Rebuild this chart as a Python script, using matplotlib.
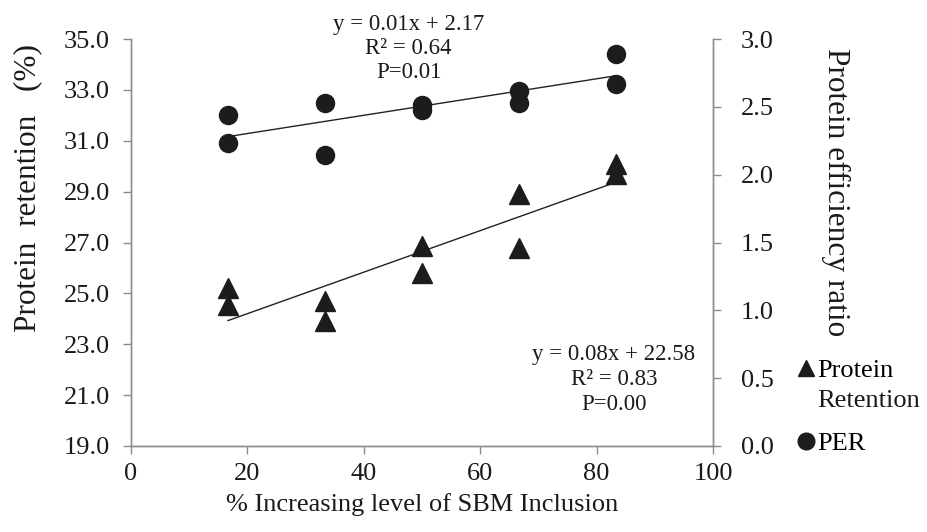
import matplotlib
matplotlib.use("Agg")
import matplotlib.pyplot as plt
import numpy as np
from matplotlib.lines import Line2D

# Data
sbm_level = [16.67, 16.67, 33.33, 33.33, 50.0, 50.0, 66.67, 66.67, 83.33, 83.33]
protein_retention = [25.2, 24.55, 24.7, 23.9, 26.85, 25.8, 28.9, 26.8, 30.1, 29.7]
per_values = [2.44, 2.235, 2.526, 2.148, 2.514, 2.48, 2.62, 2.526, 2.89, 2.67]

left_ticks = [19.0, 21.0, 23.0, 25.0, 27.0, 29.0, 31.0, 33.0, 35.0]
right_ticks = [0.0, 0.5, 1.0, 1.5, 2.0, 2.5, 3.0]
x_ticks = [0, 20, 40, 60, 80, 100]

eq_per = "y = 0.01x + 2.17\nR\u00b2 = 0.64\nP=0.01"
eq_pr = "y = 0.08x + 22.58\nR\u00b2 = 0.83\nP=0.00"
legend_labels = ["Protein", "PER"]
legend_label_cont = "Retention"

plt.rcParams['font.family'] = ['Liberation Serif', 'DejaVu Serif']
FS = 19
YL_FS = 22.5
EQ_FS = 16.5
spine_c = '#8c8c8c'
mark_c = '#1c1c1c'
txt_c = '#1a1a1a'

fig = plt.figure(figsize=(9.28, 5.32), dpi=100)
ax = fig.add_axes([131/928, 1-446/532, (713-131)/928, (446-39)/532])
ax2 = ax.twinx()

ax.set_xlim(0, 100)
ax.set_ylim(19, 35)
ax2.set_ylim(0, 3)

x = np.array(sbm_level)
pr = np.array(protein_retention)
pe = np.array(per_values)

ax.plot(x, pr, linestyle='none', marker='^', markersize=14, color=mark_c, zorder=3)
ax2.plot(x, pe, linestyle='none', marker='o', markersize=13, color=mark_c, zorder=3)

# trend lines
xl = np.array([x.min(), x.max()])
k1, b1 = np.polyfit(x, pr, 1)
ax.plot(xl, k1*xl + b1, color='#222222', lw=1.0, zorder=2)
k2, b2 = np.polyfit(x, pe, 1)
ax2.plot(xl, k2*xl + b2, color='#222222', lw=1.0, zorder=2)

ax.set_xticks(x_ticks)
ax.set_xticklabels([str(t) for t in x_ticks])
ax.set_yticks(left_ticks)
ax.set_yticklabels([f"{t:.1f}" for t in left_ticks])
ax2.set_yticks(right_ticks)
ax2.set_yticklabels([f"{t:.1f}" for t in right_ticks])

for a in (ax, ax2):
    a.spines['top'].set_visible(False)
    for s in ('left', 'right', 'bottom'):
        a.spines[s].set_color(spine_c)
        a.spines[s].set_linewidth(1.0)
    a.tick_params(colors=spine_c, labelcolor=txt_c, labelsize=FS, length=6, width=1.0, direction='out')
ax.tick_params(axis='y', pad=9)
ax2.tick_params(axis='y', pad=14)
ax.tick_params(axis='x', pad=6)

ax.set_xlabel("% Increasing level of SBM Inclusion", fontsize=FS, color=txt_c, labelpad=6)
ax.set_ylabel("Protein  retention   (%)", fontsize=YL_FS, color=txt_c, va='center')
ax.yaxis.set_label_coords(-0.177, 0.634)
ax2.set_ylabel("Protein efficiency ratio", fontsize=YL_FS, color=txt_c, rotation=270, va='center')
ax2.yaxis.set_label_coords(1.21, 0.625)

ax.text(47.7, 34.62, eq_per, ha='center', va='center', fontsize=EQ_FS, color=txt_c,
        linespacing=1.2, zorder=4, clip_on=False)
ax.text(83.0, 21.62, eq_pr, ha='center', va='center', fontsize=EQ_FS, color=txt_c,
        linespacing=1.25, zorder=4)

handles = [Line2D([], [], linestyle='none', marker='^', markersize=12, color=mark_c),
           Line2D([], [], linestyle='none', marker='o', markersize=12, color=mark_c)]
leg = fig.legend(handles, legend_labels, loc='upper left',
                 bbox_to_anchor=(798/928, 1-359/532), frameon=False, fontsize=FS,
                 handlelength=0.6, handletextpad=0.12, labelspacing=1.85, borderpad=0, borderaxespad=0)

fig.canvas.draw()
bb = leg.get_texts()[0].get_window_extent()
fig.text(bb.x0 / fig.bbox.width, 1 - 401/532, legend_label_cont, fontsize=FS, color=txt_c,
         ha='left', va='center')

fig.savefig("out.png", dpi=100)
